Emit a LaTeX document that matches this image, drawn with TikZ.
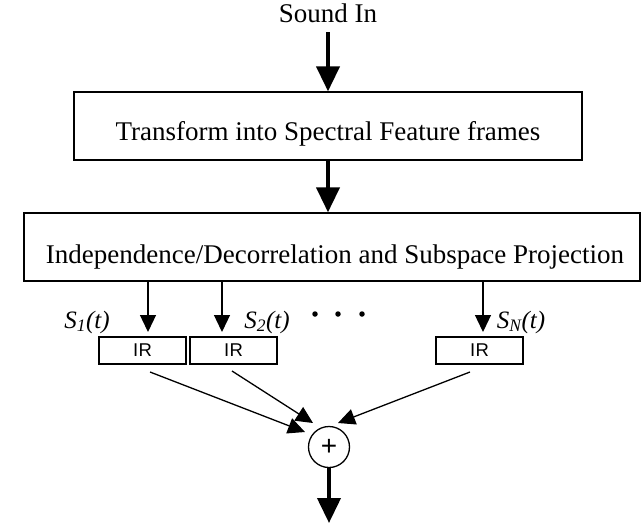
\documentclass[tikz,border=0pt]{standalone}
\usepackage{fontspec}
\setmainfont{Liberation Serif}
\newfontfamily\irfont{Liberation Sans}
\usetikzlibrary{arrows.meta}
\begin{document}
\begin{tikzpicture}[x=1pt,y=-1pt,
  blockbox/.style={draw,line width=1.3pt,inner sep=0pt},
  blocktext/.style={anchor=base,inner sep=0pt,font=\fontsize{27}{30}\selectfont},
  irbox/.style={draw,line width=1.2pt,minimum width=87pt,minimum height=27pt,inner sep=0pt,
    font=\irfont\fontsize{18.5}{20}\selectfont},
  sumnode/.style={draw,circle,line width=1.3pt,minimum size=41pt,inner sep=0pt,
    font=\irfont\fontsize{28}{30}\selectfont},
  bigarrow/.style={line width=4pt,-{Triangle[width=23pt,length=25pt]}},
  smallarrow/.style={line width=1.3pt,-{Triangle[width=16pt,length=17pt]}},
  siglabel/.style={anchor=base,inner sep=0pt,font=\itshape\fontsize{25}{28}\selectfont},
  dotmark/.style={fill=black,circle,inner sep=0pt,minimum size=5.5pt}]

\useasboundingbox (0,0) rectangle (641,523);

% input label and the two processing stages
\node (soundin) [blocktext] at (328,22) {Sound In};
\node (box1) [blockbox,minimum width=508pt,minimum height=68pt] at (328,126) {};
\node (box1txt) [blocktext] at (328,140) {Transform into Spectral Feature frames};
\node (box2) [blockbox,minimum width=616pt,minimum height=68pt] at (332,247) {};
\node (box2txt) [blocktext] at (335,263) {Independence/Decorrelation and Subspace Projection};

\coordinate (inTop) at (328,32);
\draw[bigarrow] (inTop) -- (box1.north -| inTop);
\draw[bigarrow] (box1.south -| inTop) -- (box2.north -| inTop);

% per-source IR filters
\node (irA) [irbox] at (142.5,350.5) {I\kern0.5pt R};
\node (irB) [irbox] at (233.5,350.5) {I\kern0.5pt R};
\node (irC) [irbox] at (479.5,350.5) {I\kern0.5pt R};

\coordinate (tipA) at (148,332);
\coordinate (tipB) at (222,332);
\coordinate (tipC) at (483,332);
\draw[smallarrow] (box2.south -| tipA) -- (tipA);
\draw[smallarrow] (box2.south -| tipB) -- (tipB);
\draw[smallarrow] (box2.south -| tipC) -- (tipC);

\node (sA) [siglabel] at (87,328) {S\textsubscript{1}(t)};
\node (sB) [siglabel] at (267,328) {S\textsubscript{2}(t)};
\node (sC) [siglabel] at (521,328) {S\textsubscript{N}(t)};

\node (d1) [dotmark] at (315,314) {};
\node (d2) [dotmark] at (338,314) {};
\node (d3) [dotmark] at (362,314) {};

% summation
\node (sum) [sumnode] at (329,447) {+};

\coordinate (outA) at (150,372);
\coordinate (outB) at (232,371);
\coordinate (outC) at (470,372);
\coordinate (inA) at (305,432);
\coordinate (inB) at (313,423);
\coordinate (inC) at (338,423);
\draw[smallarrow] (outA) -- (inA);
\draw[smallarrow] (outB) -- (inB);
\draw[smallarrow] (outC) -- (inC);

\coordinate (outEnd) at (329,523);
\draw[bigarrow] (sum.south) -- (outEnd);
\end{tikzpicture}
\end{document}
